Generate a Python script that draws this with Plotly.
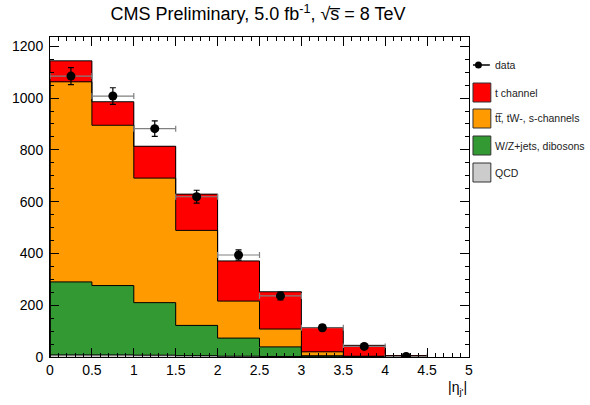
import plotly.graph_objects as go

# ---------------- data ----------------
bin_edges = [0.0, 0.5, 1.0, 1.5, 2.0, 2.5, 3.0, 3.5, 4.0, 4.5]
bin_centers = [0.25, 0.75, 1.25, 1.75, 2.25, 2.75, 3.25, 3.75, 4.25]
bin_width = 0.5

qcd = [8, 8, 7, 5, 3, 2, 1, 0.5, 0.1]
wz_jets = [282, 268, 203, 117, 70, 37, 4, 1, 0.3]
ttbar_tw_s = [773, 619, 481, 367, 143, 69, 15, 1.5, 0.3]
t_channel = [81, 91, 123, 140, 155, 144, 94, 42, 4.5]

data_y = [1085, 1008, 882, 619, 394, 236, 113, 41, 2]
data_err = [33, 32, 30, 25, 20, 15, 11, 6, 1.5]

title_text = "CMS Preliminary, 5.0 fb<sup>-1</sup>, \u221as\u0305 = 8 TeV"
legend_labels = ["data", "t channel", "tt\u0305, tW-, s-channels",
                 "W/Z+jets, dibosons", "QCD"]
colors = {"t": "#ff0000", "tt": "#ff9a00", "wz": "#339933", "qcd": "#cccccc"}

# ---------------- layout geometry ----------------
W, H = 590, 405
L, R, T, B = 47, 121, 37, 48
PW, PH = W - L - R, H - T - B


def px(x):
    return (x - L) / PW


def py(y):
    return 1 - (y - T) / PH


font = "Liberation Sans, Arial, Helvetica, sans-serif"

fig = go.Figure()
components = [(qcd, colors["qcd"]), (wz_jets, colors["wz"]),
              (ttbar_tw_s, colors["tt"]), (t_channel, colors["t"])]
for vals, col in components:
    fig.add_trace(go.Bar(x=bin_centers, y=vals, width=bin_width,
                         marker=dict(color=col, line=dict(width=0)),
                         showlegend=False, hoverinfo="skip"))

# step outlines of each stacked histogram (ROOT-style)
cum = [0.0] * len(bin_centers)
for vals, col in components:
    cum = [c + v for c, v in zip(cum, vals)]
    xs = [bin_edges[0]] + bin_edges + [bin_edges[-1]]
    ys = [0] + cum + [cum[-1], 0]
    xs = [bin_edges[0]] + bin_edges[:-1] + [bin_edges[-1], bin_edges[-1]]
    fig.add_trace(go.Scatter(x=xs, y=ys, mode="lines",
                             line=dict(color="black", width=1, shape="hv"),
                             showlegend=False, hoverinfo="skip"))

fig.add_trace(go.Scatter(
    x=bin_centers, y=data_y, mode="markers",
    marker=dict(color="black", size=9),
    error_y=dict(type="data", array=data_err, color="black", thickness=1.2, width=3),
    error_x=dict(type="constant", value=bin_width / 2, color="#808080", thickness=1.2, width=3),
    showlegend=False, hoverinfo="skip"))

fig.update_layout(
    barmode="stack", bargap=0,
    width=W, height=H,
    margin=dict(l=L, r=R, t=T, b=B),
    paper_bgcolor="white", plot_bgcolor="white",
    font=dict(family=font, size=14, color="black"),
    title=dict(text=title_text, x=(L + PW / 2) / W, xanchor="center",
               y=1 - 14 / H, yanchor="middle", yref="container",
               font=dict(size=18, family=font, color="black")),
)

fig.update_xaxes(range=[0, 5], dtick=0.5, tick0=0, ticks="inside", ticklen=9,
                 tickcolor="black", showline=True, linecolor="black", linewidth=1,
                 mirror="allticks", showgrid=False, zeroline=False,
                 minor=dict(dtick=0.1, ticks="inside", ticklen=4, tickcolor="black", showgrid=False),
                 tickfont=dict(size=14))
fig.update_yaxes(range=[0, 1236], dtick=200, tick0=0, ticks="inside", ticklen=9,
                 tickcolor="black", showline=True, linecolor="black", linewidth=1,
                 mirror="allticks", showgrid=False, zeroline=False,
                 minor=dict(dtick=50, ticks="inside", ticklen=4, tickcolor="black", showgrid=False),
                 tickfont=dict(size=14), ticklabelstandoff=3)

# axis title
fig.add_annotation(text="|\u03b7<sub>j'</sub>|", xref="paper", yref="paper",
                   x=px(469), y=py(388), xanchor="right", yanchor="middle",
                   showarrow=False, font=dict(size=14, family=font))

# manual legend
shapes = []
ann = []
rows_y = [65, 92.5, 118.5, 145.5, 172.5]
box_cols = [None, colors["t"], colors["tt"], colors["wz"], colors["qcd"]]
for yc, col, lab in zip(rows_y, box_cols, legend_labels):
    if col is None:
        shapes.append(dict(type="line", xref="paper", yref="paper",
                           x0=px(473), x1=px(490), y0=py(yc), y1=py(yc),
                           line=dict(color="black", width=1.5)))
        shapes.append(dict(type="circle", xref="paper", yref="paper",
                           x0=px(475), x1=px(482), y0=py(yc - 3.5), y1=py(yc + 3.5),
                           fillcolor="black", line=dict(color="black", width=0)))
    else:
        shapes.append(dict(type="rect", xref="paper", yref="paper",
                           x0=px(473), x1=px(491), y0=py(yc - 9.5), y1=py(yc + 9.5),
                           fillcolor=col, line=dict(color="#333333", width=1)))
    ann.append(dict(text=lab, xref="paper", yref="paper", x=px(493), y=py(yc),
                    xanchor="left", yanchor="middle", showarrow=False,
                    font=dict(size=10.5, family=font, color="#222222")))

fig.update_layout(shapes=shapes)
for a in ann:
    fig.add_annotation(**a)

fig.write_html("out.html")
